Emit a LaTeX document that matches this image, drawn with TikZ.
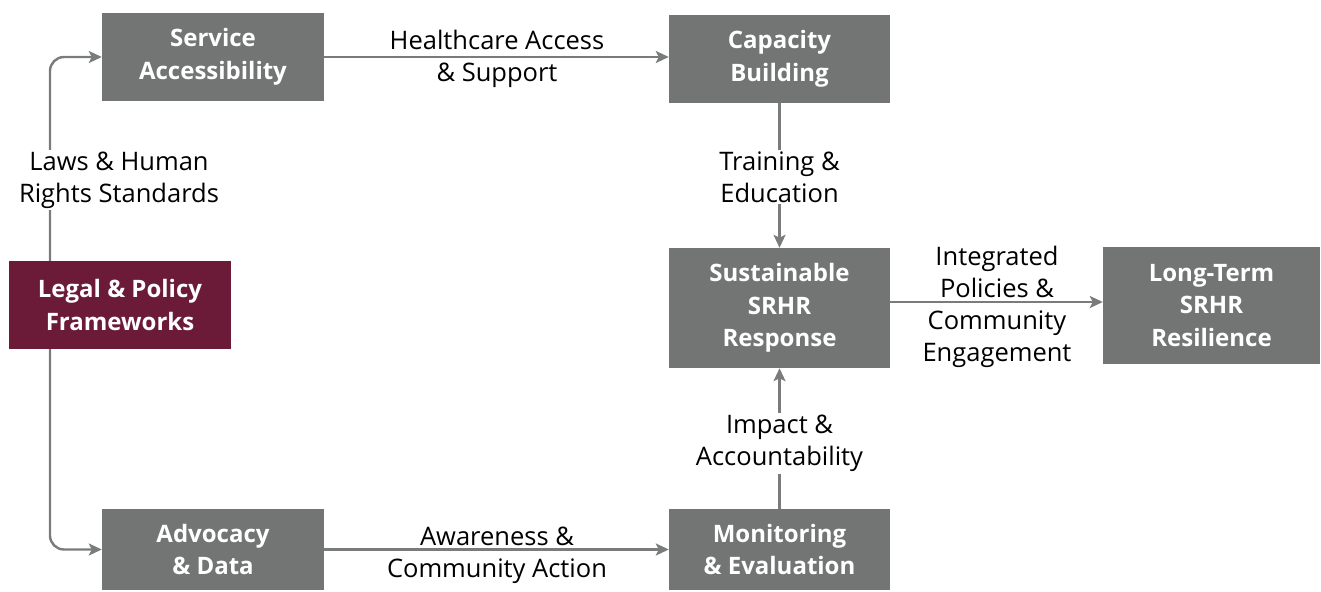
\documentclass[tikz,border=0pt]{standalone}
\usepackage{fontspec}
\setmainfont{Open Sans}
\usetikzlibrary{arrows.meta}
\definecolor{boxgray}{HTML}{737575}
\definecolor{linegray}{HTML}{7A7C7C}
\definecolor{maroon}{HTML}{6B1A37}
\tikzset{
  box/.style={fill=boxgray, text=white, font=\fontsize{24}{32.5}\selectfont\bfseries, align=center, inner sep=0pt},
  lab/.style={text=black, font=\fontsize{25.5}{32}\selectfont, align=center, inner sep=2pt},
  vlab/.style={lab, fill=white},
  conn/.style={draw=linegray, line width=2.4pt, -{Stealth[length=13pt,width=12pt,inset=3pt]}, rounded corners=14pt}
}
\begin{document}
\begin{tikzpicture}[x=1pt,y=-1pt]
\useasboundingbox (0,0) rectangle (1321,591);
\node[box, minimum width=222pt, minimum height=88pt] (sa) at (213,57) {Service\\Accessibility};
\node[box, minimum width=221pt, minimum height=88pt] (cb) at (779.5,59) {Capacity\\Building};
\node[box, fill=maroon, minimum width=222pt, minimum height=88pt] (lp) at (120,305) {Legal \& Policy\\Frameworks};
\node[box, minimum width=221pt, minimum height=120pt] (sr) at (779.5,308) {Sustainable\\SRHR\\Response};
\node[box, minimum width=217pt, minimum height=117pt] (lt) at (1211.5,305.5) {Long-Term\\SRHR\\Resilience};
\node[box, minimum width=222pt, minimum height=81pt] (ad) at (213,549.5) {Advocacy\\\& Data};
\node[box, minimum width=221pt, minimum height=81pt] (me) at (779.5,549.5) {Monitoring\\\& Evaluation};

\coordinate (c1) at (50,57);
\coordinate (c2) at (50,550);
\draw[conn] (lp.north -| c1) |- (sa.west);
\draw[conn] (lp.south -| c1) |- (ad.west);
\draw[conn] (sa.east) -- (sa.east -| cb.west);
\draw[conn] (cb.south) -- (sr.north);
\draw[conn] (sr.east |- 0,302) -- (lt.west |- 0,302);
\draw[conn] (me.north) -- (sr.south);
\draw[conn] (ad.east) -- (me.west |- ad.east);

\node[vlab] (l1) at (119,180) {Laws \& Human\\Rights Standards};
\node[lab] (l2) at (497,59) {Healthcare Access\\\& Support};
\node[vlab] (l3) at (779.5,177) {Training \&\\Education};
\node[lab] (l4) at (997,307) {Integrated\\Policies \&\\Community\\Engagement};
\node[vlab] (l5) at (779.5,443.5) {Impact \&\\Accountability};
\node[lab] (l6) at (497,555) {Awareness \&\\Community Action};
\end{tikzpicture}
\end{document}
